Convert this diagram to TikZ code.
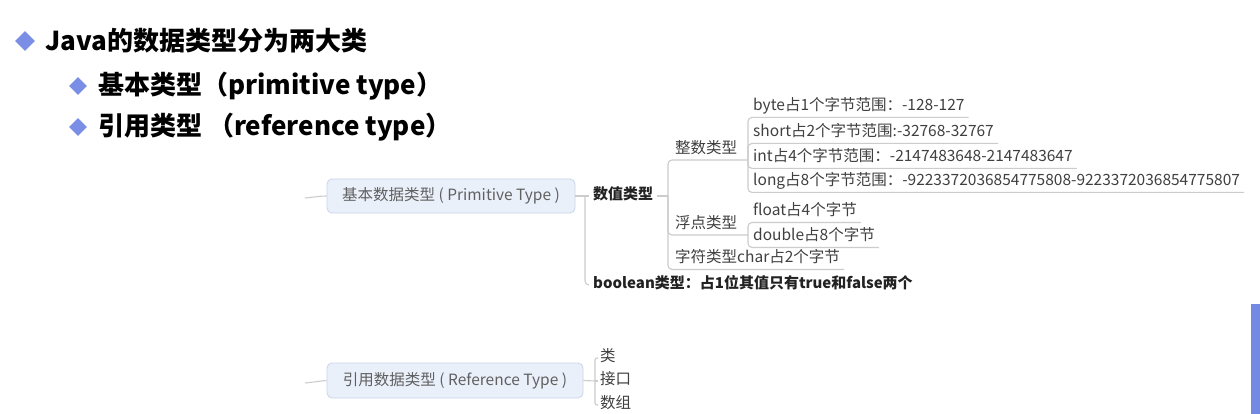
\documentclass[tikz,border=0pt]{standalone}
\usepackage{fontspec}
\setmainfont{Noto Sans CJK SC}
\usetikzlibrary{shapes.geometric}
\definecolor{diaC}{HTML}{7B8EE6}
\definecolor{boxF}{HTML}{EAF0FA}
\definecolor{boxD}{HTML}{C9D5EA}
\definecolor{boxT}{HTML}{606060}
\definecolor{leafT}{HTML}{404040}
\definecolor{boldT}{HTML}{222222}
\definecolor{lineC}{HTML}{CCCCCC}
\definecolor{barC}{HTML}{7489E4}
\begin{document}
\begin{tikzpicture}[x=1pt,y=-1pt,
  conn/.style={draw=lineC, line width=1.1pt, rounded corners=4pt},
  dia/.style={diamond, fill=diaC, inner sep=0pt, minimum width=20pt, minimum height=20pt},
  head/.style={anchor=west, inner sep=0pt, font=\fontsize{26}{30}\selectfont\bfseries, text=black},
  cbox/.style={draw=boxD, fill=boxF, rounded corners=5pt, line width=0.8pt, text=boxT, font=\fontsize{15.5}{18}\selectfont, inner sep=0pt},
  leaf/.style={anchor=west, inner xsep=4pt, inner ysep=3pt, text height=11pt, text depth=3.5pt, font=\fontsize{15.5}{18}\selectfont, text=leafT},
  bleaf/.style={leaf, font=\fontsize{15}{18}\selectfont\bfseries, text=boldT}
]
\useasboundingbox (0,0) rectangle (1260,414);
\fill[white] (0,0) rectangle (1260,414);

% header
\node[dia] (d1) at (25,41) {};
\node[head] (h1) at (45,41) {Java的数据类型分为两大类};
\node[dia, minimum width=18pt, minimum height=18pt] (d2) at (78,86) {};
\node[head] (h2) at (98,86) {基本类型（primitive type）};
\node[dia, minimum width=18pt, minimum height=18pt] (d3) at (78,127) {};
\node[head] (h3) at (98,127) {引用类型 （reference type）};

% primitive branch
\node[cbox, minimum width=248pt, minimum height=34pt] (pb) at (451,196) {基本数据类型 ( Primitive Type )};
\node[bleaf] (num) at (589,196) {数值类型};
\node[bleaf] (bool) at (589,285) {boolean类型：占1位其值只有true和false两个};
\node[leaf] (zs) at (671,150) {整数类型};
\node[leaf] (fd) at (671,225) {浮点类型};
\node[leaf] (zf) at (671,259) {字符类型char占2个字节};
\node[leaf] (by) at (749,107) {byte占1个字节范围：-128-127};
\node[leaf] (sh) at (749,133) {short占2个字节范围:-32768-32767};
\node[leaf] (it) at (749,158) {int占4个字节范围：-2147483648-2147483647};
\node[leaf] (lo) at (749,182) {long占8个字节范围：-9223372036854775808-9223372036854775807};
\node[leaf] (fl) at (749,212) {float占4个字节};
\node[leaf] (db) at (749,237) {double占8个字节};

\coordinate (p0) at (305,198);
\coordinate (s1) at (585,196);
\coordinate (s2) at (668,196);
\coordinate (s3) at (748,160);
\coordinate (s4) at (748,235);

\draw[conn, rounded corners=0pt] (p0) .. controls (315,197) and (320,196) .. (pb.west);
\draw[conn] (pb.east) -- (num.west);
\draw[conn] (s1) |- (bool.west);
\draw[conn] (num.east) -- (s2);
\draw[conn] (s2) |- (s3);
\draw[conn] (s2) |- (s4);
\draw[conn] (s2) |- (zf.south east);
\draw[conn] (s3) |- (by.south east);
\draw[conn] (s3) |- (sh.south east);
\draw[conn] (s3) |- (it.south east);
\draw[conn] (s3) |- (lo.south east);
\draw[conn] (s4) |- (fl.south east);
\draw[conn] (s4) |- (db.south east);

% reference branch
\node[cbox, minimum width=256pt, minimum height=35pt] (rb) at (455,380.5) {引用数据类型 ( Reference Type )};
\node[leaf, inner xsep=2pt] (lei) at (598,358) {类};
\node[leaf, inner xsep=2pt] (jk) at (598,381) {接口};
\node[leaf, inner xsep=2pt] (sz) at (598,405) {数组};
\coordinate (r0) at (305,383);
\coordinate (s5) at (595,381);
\draw[conn, rounded corners=0pt] (r0) .. controls (315,382) and (320,381) .. (rb.west);
\draw[conn] (rb.east) -- (s5);
\draw[conn, rounded corners=2pt] (s5) |- (lei.west);
\draw[conn] (s5) -- (jk.west);
\draw[conn, rounded corners=2pt] (s5) |- (sz.west);

% side bar
\fill[barC] (1251,304) rectangle (1260,414);
\end{tikzpicture}
\end{document}
